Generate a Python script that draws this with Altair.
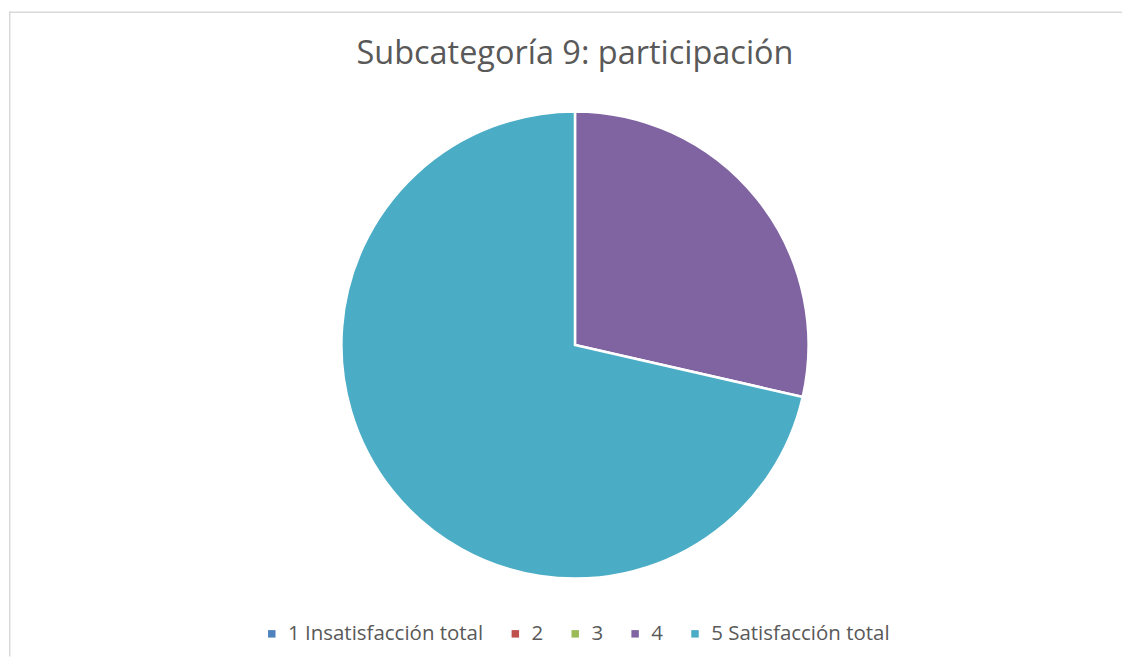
import altair as alt
import pandas as pd

categories = ["1 Insatisfacción total", "2", "3", "4", "5 Satisfacción total"]
values = [0, 0, 0, 2, 5]
order = [1, 2, 3, 4, 5]
colors = ["#4F81BD", "#C0504D", "#9BBB59", "#8064A2", "#4BACC6"]
title_text = "Subcategoría 9: participación"

df = pd.DataFrame({"cat": categories, "val": values, "ord": order})

pie = alt.Chart(df).mark_arc(
    radius=234, stroke="white", strokeWidth=2.5
).encode(
    theta=alt.Theta("val:Q", stack=True),
    order=alt.Order("ord:Q", sort="ascending"),
    color=alt.Color(
        "cat:N",
        sort=categories,
        scale=alt.Scale(domain=categories, range=colors),
        legend=alt.Legend(
            title=None,
            orient="none",
            legendX=253,
            legendY=613,
            direction="horizontal",
            columns=5,
            symbolType="square",
            symbolSize=56,
            symbolStrokeWidth=0,
            labelFont="Open Sans",
            labelFontSize=20.5,
            labelColor="#595959",
            labelOffset=6,
            columnPadding=21,
            labelLimit=400,
        ),
    ),
    x=alt.value(567),
    y=alt.value(334),
)

title = alt.Chart(pd.DataFrame({"t": [title_text]})).mark_text(
    font="Open Sans", fontSize=32.5, color="#595959", baseline="alphabetic", align="center"
).encode(text="t:N", x=alt.value(567), y=alt.value(53))

left_rule = alt.Chart(pd.DataFrame({"a": [0]})).mark_rule(
    color="#d9d9d9", strokeWidth=1.5
).encode(x=alt.value(0.75), y=alt.value(0), y2=alt.value(646))

top_rule = alt.Chart(pd.DataFrame({"a": [0]})).mark_rule(
    color="#d9d9d9", strokeWidth=1.5
).encode(y=alt.value(0.75), x=alt.value(0), x2=alt.value(1115))

chart = alt.layer(pie, title, left_rule, top_rule).properties(
    width=1115, height=646,
    padding={"left": 0, "top": 2, "right": 0, "bottom": 0},
).configure_view(strokeWidth=0)

chart.save("out.html", embed_options={"renderer": "svg", "actions": False})
